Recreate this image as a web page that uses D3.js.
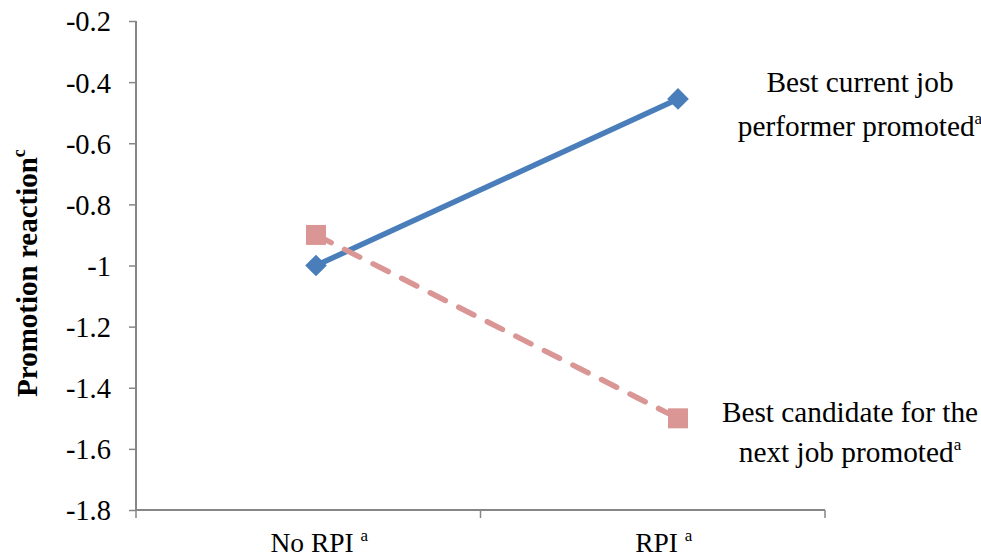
<!DOCTYPE html>
<html>
<head>
<meta charset="utf-8">
<script src="https://cdn.jsdelivr.net/npm/d3@7"></script>
<style>
  html, body { margin: 0; padding: 0; background: #fff; }
  svg { display: block; }
  text { font-family: "Liberation Serif", "Times New Roman", serif; fill: #000; }
</style>
</head>
<body>
<svg id="chart" width="981" height="559"></svg>
<script>
// ---- data ----
const categories = ["No RPI", "RPI"];
const currentPerformer = [-1.0, -0.455];   // Best current job performer promoted
const nextCandidate = [-0.9, -1.5];        // Best candidate for the next job promoted
const yTicks = [-1.8, -1.6, -1.4, -1.2, -1.0, -0.8, -0.6, -0.4, -0.2];
const yTickLabels = ["-1.8", "-1.6", "-1.4", "-1.2", "-1", "-0.8", "-0.6", "-0.4", "-0.2"];
const seriesLabels = [
  ["Best current job", "performer promoted"],
  ["Best candidate for the", "next job promoted"]
];
const yTitle = "Promotion reaction";

// ---- layout ----
const svg = d3.select("#chart");
const plotL = 136, plotR = 825, plotT = 21, plotB = 510;
const axisColor = "#868686";
const blue = "#4A7EBB", pink = "#D99694";

const y = d3.scaleLinear().domain([-1.8, -0.2]).range([plotB, plotT]);
const xBand = d3.scaleBand().domain(categories).range([plotL, plotR]);
const xPt = d3.scalePoint().domain(categories).range([316, 678]);

// y axis
const yAxis = d3.axisLeft(y).tickValues(yTicks).tickSize(7).tickSizeOuter(0)
  .tickFormat((d, i) => yTickLabels[i]);
const gy = svg.append("g").attr("transform", `translate(${plotL},0)`).call(yAxis);
gy.select(".domain").attr("stroke", axisColor).attr("stroke-width", 2).attr("d", `M0,${plotT}V${plotB}`);
gy.selectAll(".tick line").attr("stroke", axisColor).attr("stroke-width", 1.5);
gy.selectAll(".tick text").attr("font-size", 28.5).attr("x", -25).attr("dy", "0.35em")
  .style("font-family", '"Liberation Serif", serif').attr("fill", "#000");

// x axis line
svg.append("line").attr("x1", plotL).attr("x2", plotR).attr("y1", plotB).attr("y2", plotB)
  .attr("stroke", axisColor).attr("stroke-width", 2);
const xTickPos = [xBand(categories[0])].concat(categories.map(c => xBand(c) + xBand.bandwidth()));
svg.selectAll(".xtick").data(xTickPos).join("line")
  .attr("x1", d => d).attr("x2", d => d).attr("y1", plotB).attr("y2", plotB + 8)
  .attr("stroke", axisColor).attr("stroke-width", 1.5);

// x category labels
categories.forEach(c => {
  const t = svg.append("text").attr("x", xBand(c) + xBand.bandwidth() / 2 + 11).attr("y", 552)
    .attr("text-anchor", "middle").attr("font-size", 27.5);
  t.append("tspan").text(c + " ");
  t.append("tspan").text("a").attr("font-size", 17).attr("dy", -11);
});

// y title
const yt = svg.append("text").attr("transform", `translate(37,273) rotate(-90)`)
  .attr("text-anchor", "middle").attr("font-size", 29).attr("font-weight", "bold");
yt.append("tspan").text(yTitle);
yt.append("tspan").text("c").attr("font-size", 18).attr("dy", -12);

// lines
const line = d3.line().x((d, i) => xPt(categories[i])).y(d => y(d));
svg.append("path").datum(currentPerformer).attr("d", line)
  .attr("fill", "none").attr("stroke", blue).attr("stroke-width", 5.5).attr("stroke-linecap", "round");
svg.append("path").datum(nextCandidate).attr("d", line)
  .attr("fill", "none").attr("stroke", pink).attr("stroke-width", 5.5)
  .attr("stroke-linecap", "round").attr("stroke-dasharray", "17,15");

// markers
const diamond = d3.symbol().type(d3.symbolDiamond2).size(300);
svg.selectAll(".dm").data(currentPerformer).join("path")
  .attr("d", diamond).attr("transform", (d, i) => `translate(${xPt(categories[i])},${y(d)})`)
  .attr("fill", blue);
const square = d3.symbol().type(d3.symbolSquare).size(400);
svg.selectAll(".sq").data(nextCandidate).join("path")
  .attr("d", square).attr("transform", (d, i) => `translate(${xPt(categories[i])},${y(d)})`)
  .attr("fill", pink);

// series labels
function seriesLabel(lines, cx, y1, gap) {
  lines.forEach((l, i) => {
    const t = svg.append("text").attr("x", cx).attr("y", y1 + i * gap)
      .attr("text-anchor", "middle").attr("font-size", 29.3);
    t.append("tspan").text(l);
    if (i === lines.length - 1) t.append("tspan").text("a").attr("font-size", 17).attr("dy", -12);
  });
}
seriesLabel(seriesLabels[0], 860, 92, 44);
seriesLabel(seriesLabels[1], 850, 422, 40);
</script>
</body>
</html>
